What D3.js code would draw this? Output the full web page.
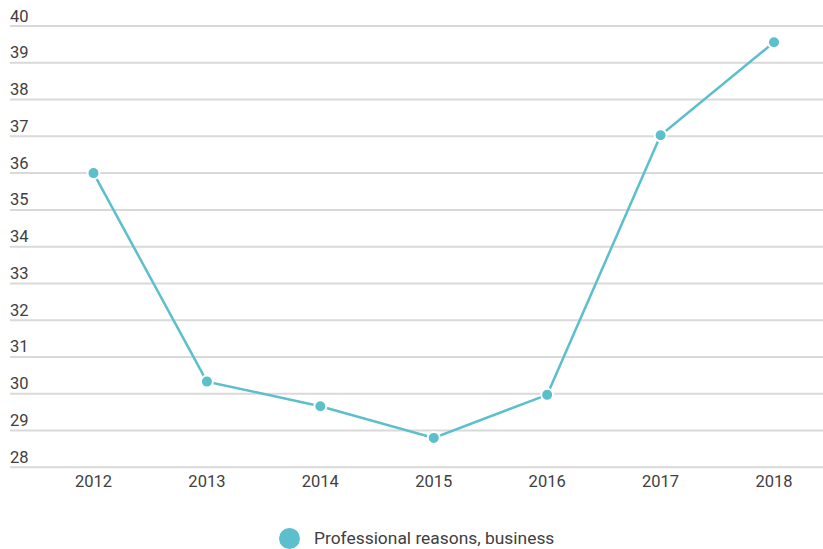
<!DOCTYPE html>
<html>
<head>
<meta charset="utf-8">
<script src="https://cdn.jsdelivr.net/npm/d3@7"></script>
<style>
  html, body { margin: 0; padding: 0; background: #fff; }
  svg { display: block; }
  text { font-family: Roboto, "Noto Sans", sans-serif; fill: #404040; }
</style>
</head>
<body>
<svg id="chart" width="823" height="549"></svg>
<script>
const years = ["2012", "2013", "2014", "2015", "2016", "2017", "2018"];
const values = [36.0, 30.33, 29.66, 28.8, 29.97, 37.03, 39.56];
const yTicks = [28, 29, 30, 31, 32, 33, 34, 35, 36, 37, 38, 39, 40];
const seriesName = "Professional reasons, business";

const W = 823, H = 549;
const color = "#5bbfcc";
const svg = d3.select("#chart");

const x = d3.scalePoint().domain(years).range([93.5, 774]);
const y = d3.scaleLinear().domain([28, 40]).range([467.3, 26]);

// gridlines + y labels
const yAxis = svg.append("g");
yAxis.selectAll("line").data(yTicks).join("line")
  .attr("x1", 10).attr("x2", W)
  .attr("y1", d => y(d)).attr("y2", d => y(d))
  .attr("stroke", "#d9d9d9").attr("stroke-width", 2);
yAxis.selectAll("text").data(yTicks).join("text")
  .attr("x", 10).attr("y", d => y(d) - 4.5)
  .attr("font-size", 16.5)
  .text(d => d);

// x labels
svg.append("g").selectAll("text").data(years).join("text")
  .attr("x", d => x(d)).attr("y", 486.5)
  .attr("text-anchor", "middle")
  .attr("font-size", 16.5)
  .text(d => d);

const pts = years.map((yr, i) => ({ yr, v: values[i] }));

svg.append("path").datum(pts)
  .attr("fill", "none").attr("stroke", color).attr("stroke-width", 2.5)
  .attr("d", d3.line().x(d => x(d.yr)).y(d => y(d.v)));

svg.append("g").selectAll("circle").data(pts).join("circle")
  .attr("cx", d => x(d.yr)).attr("cy", d => y(d.v))
  .attr("r", 6)
  .attr("fill", color).attr("stroke", "#fff").attr("stroke-width", 2);

// legend
const lg = svg.append("g");
lg.append("circle").attr("cx", 289.5).attr("cy", 538.5).attr("r", 10.5).attr("fill", color);
lg.append("text").attr("x", 314).attr("y", 543.5).attr("font-size", 17.4).text(seriesName);
</script>
</body>
</html>
